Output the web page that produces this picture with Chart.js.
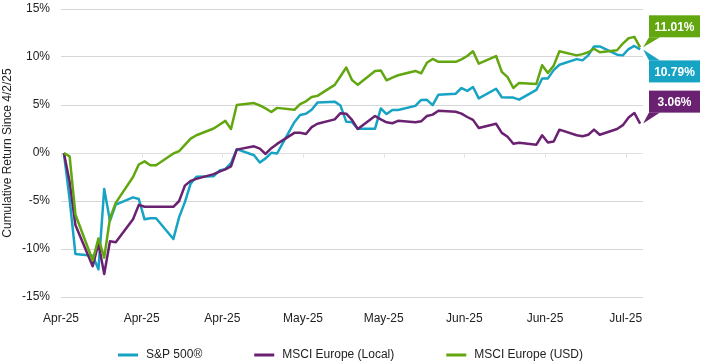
<!DOCTYPE html>
<html lang="en">
<head>
<meta charset="UTF-8">
<title>Cumulative Return Since 4/2/25</title>
<script src="https://cdn.jsdelivr.net/npm/chart.js@4"></script>
<style>
    body {
        margin: 0;
        background: #fff;
    }
    #wrap {
        width: 701px;
        height: 364px;
    }
</style>
</head>
<body>
<div id="wrap"><canvas id="returnsChart" width="701" height="364"></canvas></div>

<script>
    // Days since 4/2/25 on which either market traded
    const days = [0, 1, 2, 5, 6, 7, 8, 9, 12, 13, 14, 15, 16, 19, 20, 21, 22, 23, 26, 27, 28,
        29, 30, 33, 34, 35, 36, 37, 40, 41, 42, 43, 44, 47, 48, 49, 50, 51, 54, 55, 56, 57, 58,
        61, 62, 63, 64, 65, 68, 69, 70, 71, 72, 75, 76, 77, 78, 79, 82, 83, 84, 85, 86, 89,
        90, 91, 92, 93, 96, 97, 98, 99, 100];

    const tickLabels = ['Apr-25', 'Apr-25', 'Apr-25', 'May-25', 'May-25', 'Jun-25', 'Jun-25', 'Jul-25'];
    const seriesNames = ['S&P 500®', 'MSCI Europe (Local)', 'MSCI Europe (USD)'];

    // cumulative return, %
    const spx = [0, -4.84, -10.51, -10.71, -12.12, -3.74, -7.07, -5.38, -4.62, -4.79, -6.91, -6.79, -6.79,
        -8.96, -6.68, -5.12, -3.19, -2.48, -2.41, -1.83, -1.69,
        -1.06, 0.40, -0.23, -0.99, -0.56, 0.02, -0.05, 3.21, 3.96, 4.08, 4.51, 5.25, 5.35, 4.94, 3.26, 3.22, 2.53,
        2.53, 4.64, 4.06, 4.48, 4.47,
        4.91, 5.53, 5.54, 4.99, 6.07, 6.18, 6.77, 6.47, 6.88, 5.69, 6.69, 5.80, 5.77, 5.77, 5.56,
        6.58, 7.76, 7.77, 8.63, 9.19, 9.78,
        9.65, 10.17, 11.10, 11.10, 10.24, 10.17, 10.83, 11.15, 10.79];

    const europeLocal = [0, -3.0, -7.5, -11.8, -9.4, -12.6, -9.2, -9.3, -6.9, -5.4, -5.6, -5.6, -5.6,
        -5.6, -5.0, -3.4, -2.9, -2.7, -2.2, -1.95, -1.7,
        -1.4, 0.35, 0.7, 0.45, -0.1, 0.5, 0.95, 2.1, 2.1, 1.98, 2.7, 3.05, 3.5, 4.15, 4.1, 3.45, 2.5,
        3.85, 3.5, 3.2, 3.1, 3.35,
        3.2, 3.3, 3.85, 4.0, 4.4, 4.3, 4.1, 3.75, 3.45, 2.6, 3.05, 2.1, 1.7, 0.97, 1.07,
        0.87, 1.85, 1.1, 1.2, 2.43, 1.85,
        1.75, 1.9, 2.43, 1.9, 2.5, 2.9, 3.7, 4.17, 3.06];

    const europeUsd = [0, -0.35, -6.4, -11.2, -8.9, -10.9, -6.8, -5.2, -2.5, -1.2, -0.87, -1.28, -1.28,
        -0.05, 0.2, 0.85, 1.5, 1.85, 2.55, 2.95, 3.35,
        2.5, 5.0, 5.2, 4.95, 4.65, 4.27, 4.7, 4.5, 5.1, 5.38, 5.83, 5.95, 7.1, 8.0, 8.9, 7.6, 7.1,
        8.55, 8.6, 7.57, 7.85, 8.1,
        8.55, 8.3, 9.4, 9.8, 9.5, 9.5, 9.75, 10.1, 10.6, 9.3, 10.1, 8.45, 7.9, 6.77, 7.3,
        7.2, 9.15, 8.33, 9.1, 10.6, 10.17,
        10.3, 10.5, 10.86, 10.5, 10.7, 11.4, 11.95, 12.1, 11.01];

    const colors = ['#17a3c3', '#6b2171', '#62a70f'];
    const labelShift = [22, -22, -21];   // callout box centre relative to last point
    const FONT = '"Liberation Sans", Arial, sans-serif';

    Chart.defaults.font.family = FONT;
    Chart.defaults.font.size = 12;
    Chart.defaults.color = '#222';

    // light axis line across 0% with small tick marks
    const zeroAxis = {
        id: 'zeroAxis',
        beforeDatasetsDraw(chart) {
            const { ctx, chartArea, scales } = chart;
            const y0 = Math.round(scales.y.getPixelForValue(0)) + 0.5;
            ctx.save();
            ctx.strokeStyle = '#e2e2e2';
            ctx.lineWidth = 1;
            ctx.beginPath();
            ctx.moveTo(chartArea.left, y0);
            ctx.lineTo(chartArea.right, y0);
            scales.x.ticks.forEach(t => {
                const x = Math.round(scales.x.getPixelForValue(t.value)) + 0.5;
                ctx.moveTo(x, y0);
                ctx.lineTo(x, y0 + 4);
            });
            ctx.stroke();
            ctx.restore();
        }
    };

    // value boxes at the end of each line
    const callouts = {
        id: 'callouts',
        afterDatasetsDraw(chart) {
            const { ctx, chartArea } = chart;
            ctx.save();
            chart.data.datasets.forEach((ds, i) => {
                const pts = chart.getDatasetMeta(i).data;
                const p = pts[pts.length - 1];
                const left = chartArea.right + 6;
                const w = 51, h = 22;
                const cy = p.y + labelShift[i];
                const top = cy - h / 2;
                const edge = labelShift[i] < 0 ? top + h : top;

                ctx.fillStyle = colors[i];
                ctx.beginPath();
                ctx.moveTo(p.x + 3, p.y);
                ctx.lineTo(left, edge);
                ctx.lineTo(left + 11, edge);
                ctx.closePath();
                ctx.fill();
                ctx.fillRect(left, top, w, h);

                ctx.fillStyle = '#fff';
                ctx.font = 'bold 12px ' + FONT;
                ctx.textAlign = 'center';
                ctx.textBaseline = 'middle';
                ctx.fillText(ds.data[ds.data.length - 1].y.toFixed(2) + '%', left + w / 2, cy + 1);
            });
            ctx.restore();
        }
    };

    // legend row along the bottom
    const bottomLegend = {
        id: 'bottomLegend',
        afterDraw(chart) {
            const ctx = chart.ctx;
            const gap = 52, sample = 20, textGap = 8;
            ctx.save();
            ctx.font = '12px ' + FONT;
            const widths = seriesNames.map(n => sample + textGap + ctx.measureText(n).width);
            const total = widths.reduce((a, b) => a + b, 0) + gap * (widths.length - 1);
            let x = (chart.width - total) / 2;
            const y = chart.height - 9;
            seriesNames.forEach((name, i) => {
                ctx.fillStyle = colors[i];
                ctx.fillRect(x, y - 1.5, sample, 3);
                ctx.fillStyle = '#222';
                ctx.textAlign = 'left';
                ctx.textBaseline = 'middle';
                ctx.fillText(name, x + sample + textGap, y);
                x += widths[i] + gap;
            });
            ctx.restore();
        }
    };

    const seriesValues = [spx, europeLocal, europeUsd];

    new Chart(document.getElementById('returnsChart'), {
        type: 'line',
        data: {
            datasets: seriesValues.map((vals, i) => ({
                label: seriesNames[i],
                data: days.map((d, j) => ({ x: d, y: vals[j] })),
                borderColor: colors[i],
                backgroundColor: colors[i],
                borderWidth: 2.5,
                borderJoinStyle: 'round',
                pointRadius: 0,
                tension: 0,
                fill: false,
                order: 3 - i
            }))
        },
        options: {
            responsive: false,
            animation: false,
            devicePixelRatio: 1,
            layout: { padding: { top: 0, right: 58, bottom: 38, left: 0 } },
            plugins: {
                legend: { display: false },
                tooltip: { enabled: false }
            },
            scales: {
                x: {
                    type: 'linear',
                    min: -0.5,
                    max: 100.5,
                    afterBuildTicks: s => {
                        s.ticks = tickLabels.map((_, i) => ({ value: -0.5 + 14 * i }));
                    },
                    ticks: {
                        autoSkip: false,
                        maxRotation: 0,
                        padding: 14,
                        callback: (v, i) => tickLabels[i]
                    },
                    grid: { display: false, drawTicks: false },
                    border: { display: false },
                    afterFit: s => { s.height = 29; }
                },
                y: {
                    min: -15,
                    max: 15,
                    ticks: {
                        stepSize: 5,
                        padding: 11,
                        callback: v => v + '%'
                    },
                    grid: {
                        color: c => c.tick.value === 0 ? 'rgba(0,0,0,0)' : '#d6d6d6',
                        drawTicks: false
                    },
                    border: { display: false },
                    title: {
                        display: true,
                        text: 'Cumulative Return Since 4/2/25',
                        padding: { top: 0, bottom: 0 }
                    },
                    afterFit: s => {
                        s.width = 61;
                        s.paddingTop = 9;
                        s.paddingBottom = 0;
                    }
                }
            }
        },
        plugins: [zeroAxis, callouts, bottomLegend]
    });
</script>
</body>
</html>
